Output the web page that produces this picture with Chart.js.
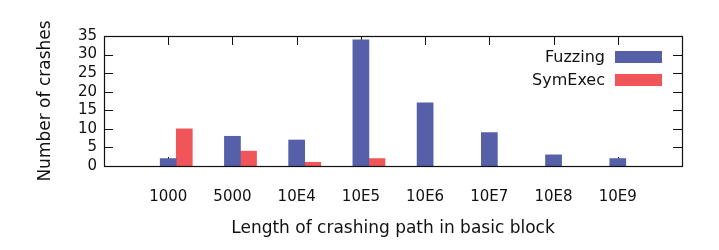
<!DOCTYPE html>
<html>
<head>
<meta charset="utf-8">
<script src="https://cdn.jsdelivr.net/npm/chart.js@4/dist/chart.umd.min.js"></script>
<style>
  html, body { margin: 0; padding: 0; background: #fff; }
  canvas { display: block; }
</style>
</head>
<body>
<canvas id="chart" width="719" height="250"></canvas>
<script>
const categories = ['1000', '5000', '10E4', '10E5', '10E6', '10E7', '10E8', '10E9'];
const fuzzing = [2, 8, 7, 34, 17, 9, 3, 2];
const symExec = [10, 4, 1, 2, 0, 0, 0, 0];
const yTicks = [0, 5, 10, 15, 20, 25, 30, 35];
const seriesNames = ['Fuzzing', 'SymExec'];
const seriesColors = ['#5560a8', '#f0555a'];

// gnuplot histogram: second bar sits one bar width right of the tick
const BAR_SLOT = 0.25;

const FAMILY = '"DejaVu Sans", sans-serif';
const TICK_FONT = { family: FAMILY, size: 15 };
const TITLE_FONT = { family: FAMILY, size: 17 };
const KEY_SIZE = 16;
const INK = '#111';

// zero-height bars leave a hairline in canvas, gnuplot draws nothing
const barFill = color => c => (c.raw && c.raw.y === 0 ? 'rgba(0,0,0,0)' : color);

// inward tics on all four sides, like gnuplot
const framePlugin = {
  id: 'frame',
  beforeDatasetsDraw(chart) {
    const { ctx, chartArea: a, scales } = chart;
    const len = 9;
    ctx.save();
    ctx.strokeStyle = INK;
    ctx.lineWidth = 1;
    ctx.beginPath();
    categories.forEach((c, i) => {
      const x = Math.round(scales.x.getPixelForValue(i)) + 0.5;
      ctx.moveTo(x, a.bottom); ctx.lineTo(x, a.bottom - len);
      ctx.moveTo(x, a.top); ctx.lineTo(x, a.top + len);
    });
    yTicks.forEach(v => {
      const y = Math.round(scales.y.getPixelForValue(v)) + 0.5;
      ctx.moveTo(a.left, y); ctx.lineTo(a.left + len, y);
      ctx.moveTo(a.right, y); ctx.lineTo(a.right - len, y);
    });
    ctx.stroke();
    ctx.restore();
  },
  afterDatasetsDraw(chart) {
    const { ctx, chartArea: a } = chart;
    ctx.save();
    ctx.strokeStyle = INK;
    ctx.lineWidth = 1.2;
    ctx.strokeRect(Math.round(a.left) + 0.5, Math.round(a.top) + 0.5,
      Math.round(a.right - a.left), Math.round(a.bottom - a.top));
    ctx.restore();
  }
};

// key inside top right, text left of the swatch
const keyPlugin = {
  id: 'key',
  afterDraw(chart) {
    const { ctx, chartArea: a } = chart;
    ctx.save();
    ctx.font = KEY_SIZE + 'px ' + FAMILY;
    ctx.textAlign = 'right';
    ctx.textBaseline = 'middle';
    chart.data.datasets.forEach((ds, i) => {
      const cy = a.top + 21 + i * 23;
      const boxRight = a.right - 20;
      ctx.fillStyle = seriesColors[i];
      ctx.fillRect(boxRight - 47, cy - 6, 47, 12);
      ctx.fillStyle = INK;
      ctx.fillText(ds.label, boxRight - 57, cy + 1);
    });
    ctx.restore();
  }
};

new Chart(document.getElementById('chart'), {
  type: 'bar',
  data: {
    datasets: [
      {
        label: seriesNames[0],
        data: fuzzing.map((v, i) => ({ x: i, y: v })),
        backgroundColor: barFill(seriesColors[0])
      },
      {
        label: seriesNames[1],
        data: symExec.map((v, i) => ({ x: i + BAR_SLOT, y: v })),
        backgroundColor: barFill(seriesColors[1])
      }
    ]
  },
  options: {
    responsive: false,
    animation: false,
    layout: { padding: { left: 0, right: 37, top: 36, bottom: 0 } },
    datasets: {
      bar: { grouped: false, categoryPercentage: 1, barPercentage: 1, borderWidth: 0 }
    },
    plugins: {
      legend: { display: false },
      tooltip: { enabled: false }
    },
    scales: {
      x: {
        type: 'linear',
        min: -1,
        max: 8,
        offset: false,
        grid: { display: false, drawTicks: false },
        border: { display: false },
        afterBuildTicks: s => { s.ticks = categories.map((c, i) => ({ value: i })); },
        afterFit: s => { s.height = 84; },
        ticks: {
          autoSkip: false,
          maxRotation: 0,
          padding: 22,
          color: INK,
          font: TICK_FONT,
          callback: v => categories[v] ?? ''
        },
        title: {
          display: true,
          text: 'Length of crashing path in basic block',
          color: INK,
          font: TITLE_FONT,
          padding: { top: 0, bottom: 11 }
        }
      },
      y: {
        min: 0,
        max: 35,
        grid: { display: false, drawTicks: false },
        border: { display: false },
        afterBuildTicks: s => { s.ticks = yTicks.map(v => ({ value: v })); },
        afterFit: s => { s.width = 104; },
        ticks: { autoSkip: false, padding: 7, color: INK, font: TICK_FONT },
        title: {
          display: true,
          text: 'Number of crashes',
          color: INK,
          font: TITLE_FONT,
          padding: { top: 35, bottom: 0 }
        }
      }
    }
  },
  plugins: [framePlugin, keyPlugin]
});
</script>
</body>
</html>
